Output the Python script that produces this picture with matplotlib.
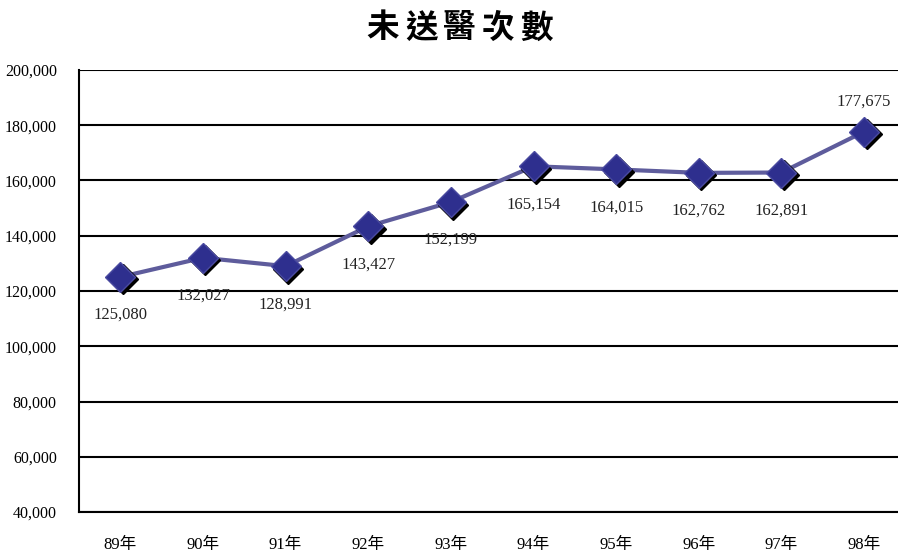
import matplotlib.pyplot as plt
import matplotlib.transforms as mtransforms

# 資料
years = ['89年', '90年', '91年', '92年', '93年', '94年', '95年', '96年', '97年', '98年']
counts = [125080, 132027, 128991, 143427, 152199, 165154, 164015, 162762, 162891, 177675]
y_ticks = [40000, 60000, 80000, 100000, 120000, 140000, 160000, 180000, 200000]
title = '未送醫次數'

serif = ['Liberation Serif', 'Noto Sans CJK TC']

fig = plt.figure(figsize=(8.98, 5.53), dpi=100)
ax = fig.add_axes([79 / 898, 41 / 553, 1 - 79 / 898, 442 / 553])

x = list(range(len(years)))

# 線
ax.plot(x, counts, color='#5E5C9C', lw=3, zorder=3, solid_joinstyle='miter')

# 標記陰影
shadow = mtransforms.offset_copy(ax.transData, fig=fig, x=2.5, y=-2.5, units='dots')
ax.plot(x, counts, ls='none', marker='D', ms=15, color='black', transform=shadow, zorder=4)
ax.plot(x, counts, ls='none', marker='D', ms=15, markerfacecolor='#2E2F8E',
        markeredgecolor='#4A4AA0', markeredgewidth=1, zorder=5)

# 數值標籤
for i, v in enumerate(counts):
    dy = 30 if i == len(counts) - 1 else -38
    ax.annotate(f'{v:,}', (i, v), xytext=(0, dy), textcoords='offset pixels',
                ha='center', va='center', fontsize=12, family=serif, color='#222222')

ax.set_ylim(40000, 200000)
ax.set_xlim(-0.5, 9.41)
ax.set_yticks(y_ticks)
ax.set_yticklabels([f'{t:,}' for t in y_ticks], family=serif, fontsize=11.5)
ax.set_xticks(x)
ax.set_xticklabels(years, family=serif, fontsize=12)
ax.tick_params(length=0, pad=18, axis='x')
ax.tick_params(length=0, pad=16, axis='y')
ax.grid(axis='y', color='black', lw=1.5)
ax.set_axisbelow(True)
for s in ['top', 'right']:
    ax.spines[s].set_visible(False)
for s in ['left', 'bottom']:
    ax.spines[s].set_linewidth(1.5)

# 標題 (字距較寬)
for k, ch in enumerate(title):
    fig.text((383 + 38.3 * k) / 898, 1 - 28 / 553, ch, ha='center', va='center',
             fontsize=23.5, fontweight='bold', family='Noto Sans CJK TC')

fig.savefig('out.png', dpi=100)
